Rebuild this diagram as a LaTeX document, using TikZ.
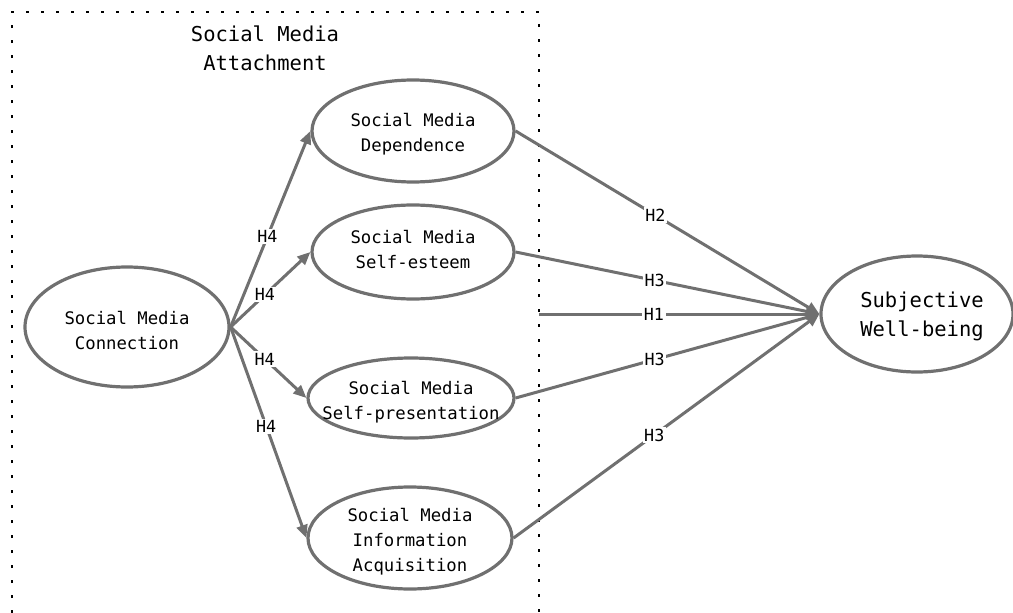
\documentclass[tikz,border=0pt]{standalone}
\usepackage{fontspec}
\setmainfont{DejaVu Sans Mono}
\usetikzlibrary{shapes.geometric,arrows.meta}
\definecolor{linegray}{RGB}{112,112,112}
\tikzset{
 ell/.style={draw=linegray, line width=3.2pt, ellipse, inner sep=0pt},
 txt/.style={align=center, font=\fontsize{17.3}{25}\selectfont, inner sep=0pt},
 big/.style={align=center, font=\fontsize{20.5}{29}\selectfont, inner sep=0pt},
 conn/.style={draw=linegray, line width=3pt, -{Triangle[length=13pt,width=11pt]}},
 lab/.style={fill=white, inner sep=1.5pt, font=\fontsize{16.7}{18}\selectfont},
 box/.style={line width=2pt, dash pattern=on 3pt off 12pt}
}
\begin{document}
\begin{tikzpicture}[x=1pt,y=-1pt]
\useasboundingbox (0,0) rectangle (1013,613);
% dotted group box
\draw[box] (12,613) -- (12,12) -- (539,12) -- (539,613);
\node[big] (title) at (265,48) {Social Media\\Attachment};
% ellipses
\node[ell, minimum width=204pt, minimum height=120pt] (con) at (127,327) {};
\node[ell, minimum width=202pt, minimum height=102pt] (dep) at (413,131) {};
\node[ell, minimum width=202pt, minimum height=94pt] (est) at (413,252) {};
\node[ell, minimum width=206pt, minimum height=80pt] (pre) at (411,398) {};
\node[ell, minimum width=204pt, minimum height=102pt] (inf) at (410,538) {};
\node[ell, minimum width=192pt, minimum height=116pt] (swb) at (917,314) {};
% texts
\node[txt] (contxt) at (127,331) {Social Media\\Connection};
\node[txt] (deptxt) at (413,134) {Social Media\\Dependence};
\node[txt] (esttxt) at (413,250) {Social Media\\Self-esteem};
\node[txt] (pretxt) at (411,402) {Social Media\\Self-presentation};
\node[txt] (inftxt) at (410,542) {Social Media\\Information\\Acquisition};
\node[big] (swbtxt) at (922,316) {Subjective\\Well-being};
% connectors from Connection
\draw[conn] (con.east) -- node[lab,pos=0.46]{H4} (dep.west);
\draw[conn] (con.east) -- node[lab,pos=0.43]{H4} (est.west);
\draw[conn] (con.east) -- node[lab,pos=0.45]{H4} (pre.west);
\draw[conn] (con.east) -- node[lab,pos=0.47]{H4} (inf.west);
% connectors to Subjective Well-being
\coordinate (attR) at (539,314);
\draw[conn] (dep.east) -- node[lab,pos=0.46]{H2} (swb.west);
\draw[conn] (est.east) -- node[lab,pos=0.458]{H3} (swb.west);
\draw[conn] (attR) -- node[lab,pos=0.41]{H1} (swb.west);
\draw[conn] (pre.east) -- node[lab,pos=0.458]{H3} (swb.west);
\draw[conn] (inf.east) -- node[lab,pos=0.46]{H3} (swb.west);
\end{tikzpicture}
\end{document}
